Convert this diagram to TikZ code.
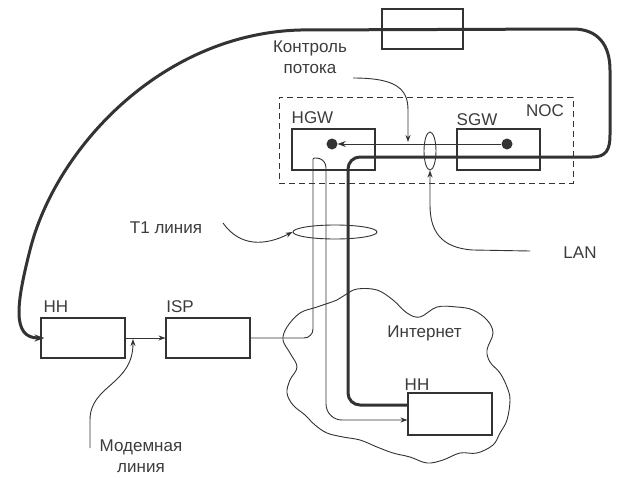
\documentclass[tikz,border=0pt]{standalone}
\usepackage{fontspec}
\setmainfont{Liberation Sans}
\usetikzlibrary{arrows.meta,shapes.geometric,calc}
\definecolor{linec}{HTML}{333333}
\definecolor{textc}{HTML}{3C3C3C}
\begin{document}
\begin{tikzpicture}[x=1pt,y=-1pt,
  box/.style={draw=linec, line width=1.1pt, minimum width=83pt, minimum height=41pt, inner sep=0pt},
  lbl/.style={text=textc, font=\fontsize{17}{20.5}\selectfont, inner sep=0pt, anchor=base},
  thinl/.style={draw=linec, line width=0.9pt},
  thickl/.style={draw=linec, line width=3pt},
  tipa/.style={-{Stealth[length=7pt,width=5pt]}},
  ring/.style={ellipse, draw=linec, line width=0.9pt, inner sep=0pt},
  dotn/.style={circle, fill=linec, minimum size=11pt, inner sep=0pt},
]
\useasboundingbox (0,0) rectangle (632,477);
\fill[white] (0,0) rectangle (632,477);

% cloud
\draw[thinl] plot[smooth cycle, tension=0.6] coordinates {
(317,307) (337,300) (345,295) (357,289) (377,290) (393,300) (407,313) (420,317)
(437,307) (457,307) (473,310) (487,320) (493,333) (487,350) (490,362) (500,373)
(507,387) (510,400) (507,420) (500,433) (493,445) (477,453) (460,453) (443,460)
(427,463) (410,457) (393,453) (377,447) (360,440) (343,437) (327,433) (315,425)
(305,415) (293,405) (287,393) (290,380) (297,367) (290,353) (283,340) (287,327) (300,313)};

% boxes
\node[box, minimum width=81pt, minimum height=40pt] (top) at (422.5,29) {};
\node[box, draw, dashed, dash pattern=on 6pt off 4pt, line width=0.9pt, minimum width=294pt, minimum height=86pt] (noc) at (426,140) {};
\node[box] (hgw) at (333.5,149.5) {};
\node[box] (sgw) at (498.5,149.5) {};
\node[box, minimum width=84pt, minimum height=40pt] (hh1) at (83,338) {};
\node[box, minimum width=84pt, minimum height=40pt] (isp) at (208,338) {};
\node[box, minimum width=84pt, minimum height=42pt] (hh2) at (450,414) {};

% dots
\node[dotn] (hdot) at (332,144) {};
\node[dotn] (sdot) at (507,144) {};

% rings
\node[ring, minimum width=12pt, minimum height=38pt] (lanring) at (430,151) {};
\node[ring, minimum width=84pt, minimum height=14pt] (t1ring) at (335,232) {};

% free ends
\coordinate (cf0) at (353,78);
\coordinate (lan0) at (530,251);
\coordinate (t10) at (223,223);
\coordinate (m0) at (90,448);
\coordinate (mtip) at (133,339);

% labels (multi-line labels: base = last line)
\node[lbl] (lctl) at (310,73) {\begin{tabular}[b]{@{}c@{}}Контроль\\потока\end{tabular}};
\node[lbl] (lhgw) at (312.5,123) {HGW};
\node[lbl] (lsgw) at (477,125) {SGW};
\node[lbl] (lnoc) at (545,116) {NOC};
\node[lbl] (llan) at (580,258) {LAN};
\node[lbl] (lt1) at (166,233) {T1 линия};
\node[lbl] (lhh1) at (56,312) {HH};
\node[lbl] (lisp) at (180,312) {ISP};
\node[lbl] (linet) at (424.5,337) {Интернет};
\node[lbl] (lhh2) at (417,390) {HH};
\node[lbl] (lmod) at (141,472) {\begin{tabular}[b]{@{}c@{}}Модемная\\линия\end{tabular}};

% thick path
\draw[thickl, -{Stealth[length=10pt,width=7pt]}] ($(hh2.west)+(0,-9)$)
  [rounded corners=12pt] -- (348,405) -- (348,157) [sharp corners] -- (592,157)
  .. controls (606,157) and (610,150) .. (610,135) -- (610,70)
  .. controls (610,45) and (598,29) .. (573,29) -- (300,30)
  .. controls (160,34) and (55,150) .. (30,250)
  .. controls (16,305) and (12,338) .. ($(hh1.west)+(4,0)$);

% T1 thin path
\draw[thinl, tipa] (isp.east) [rounded corners=9pt] -- (313,338) -- (313,168)
  [sharp corners] .. controls (313,157) and (326,157) .. (326,168)
  [rounded corners=16pt] -- (326,420) -- ($(hh2.west)+(0,6)$);

% HH -> ISP
\draw[thinl, tipa] (hh1.east) -- (isp.west);
% modem line
\draw[thinl, tipa] (m0) -- (90,420) .. controls (90,385) and (133,385) .. (mtip);
% HGW-SGW
\draw[thinl, -{Stealth[length=8pt,width=6pt]}] (sdot) -- (hdot);
% flow control
\draw[thinl, tipa] (cf0) .. controls (395,78) and (408,88) .. (408,110) -- (408,142);
% LAN
\draw[thinl, tipa] (lan0) -- (473,250) .. controls (440,248) and (430,230) .. (430,205) -- (lanring.south);
% T1 label line
\draw[thinl, tipa] (t10) .. controls (240,247) and (265,246) .. (t1ring.west);
\end{tikzpicture}
\end{document}
